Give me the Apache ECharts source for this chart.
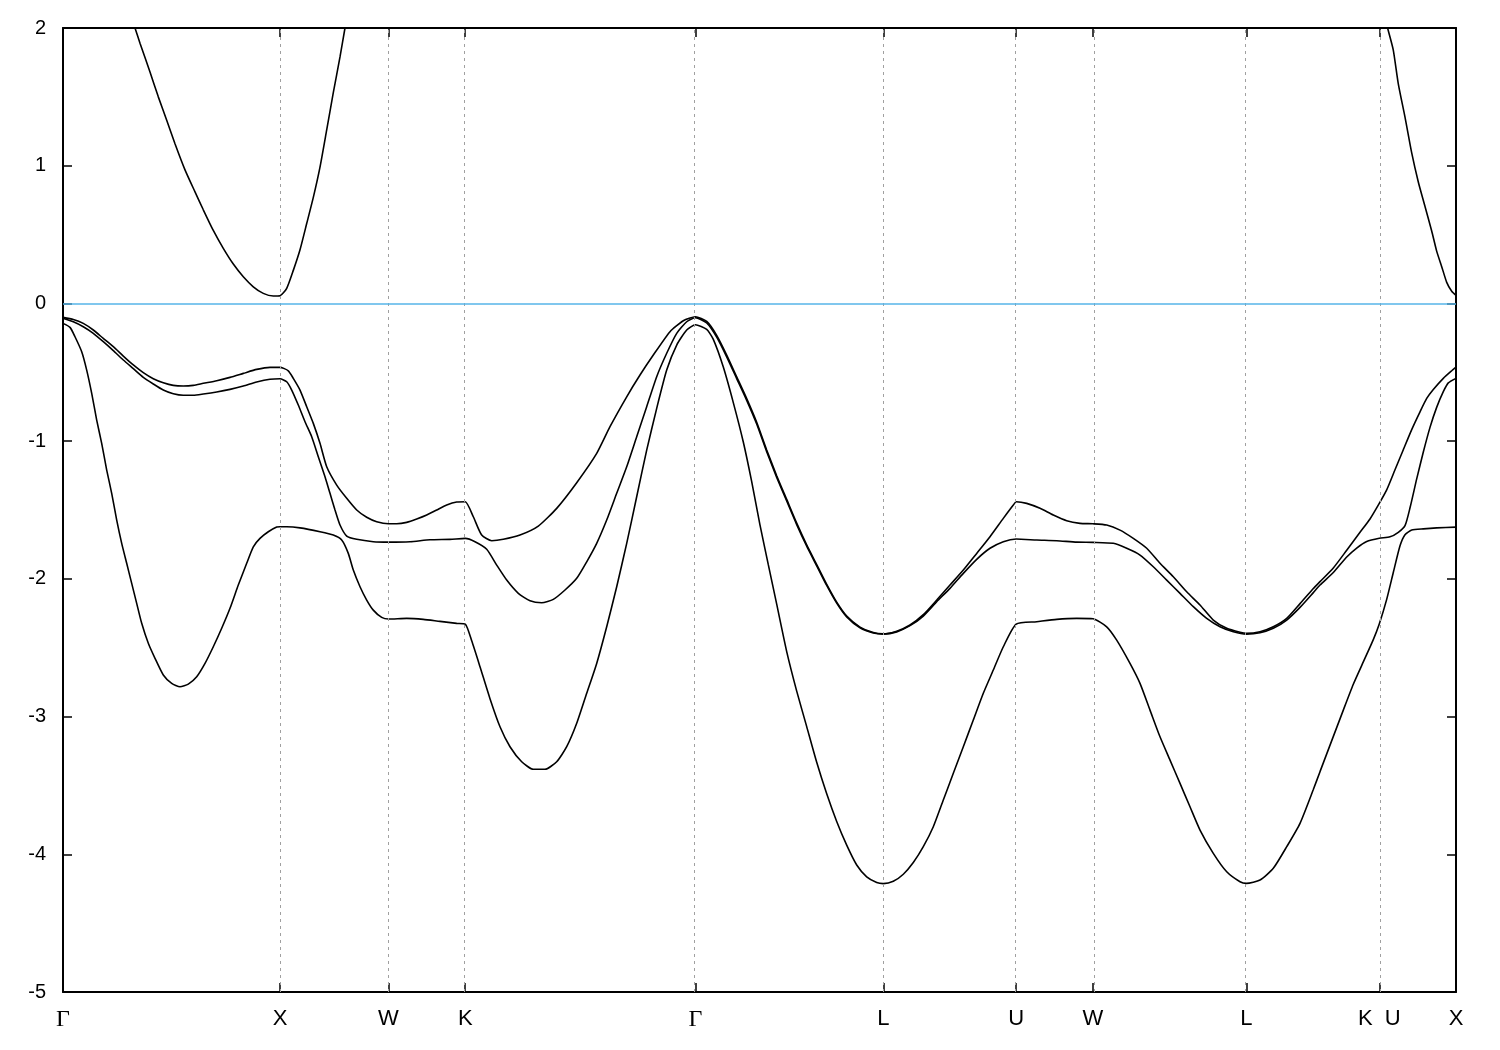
<!DOCTYPE html>
<html>
<head>
<meta charset="utf-8">
<script src="https://cdn.jsdelivr.net/npm/echarts@6/dist/echarts.min.js"></script>
<style>
html,body{margin:0;padding:0;background:#ffffff;}
#chart{width:1500px;height:1050px;}
</style>
</head>
<body>
<div id="chart"></div>
<script>
// High-symmetry points along the k-path (FCC: Γ-X-W-K-Γ-L-U-W-L-K|U-X)
const kTicks  = [0, 1, 1.5, 1.8536, 2.9142, 3.7802, 4.3926, 4.7462, 5.4533, 6.0657, 6.4193];
const kLabels = ['Γ', 'X', 'W', 'K', 'Γ', 'L', 'U', 'W', 'L', 'K  U', 'X'];

// Energy axis (eV)
const eMin = -5, eMax = 2, eStep = 1;
const fermiLevel = 0;

// Lowest valence band [k, E]
const band1 = [
  [0,-0.145],[0.0323,-0.174],[0.0553,-0.242],[0.0862,-0.351],[0.1092,-0.484],[0.1323,-0.653],
  [0.1553,-0.847],[0.1783,-1.016],[0.2014,-1.21],[0.2244,-1.379],[0.2475,-1.573],[0.2705,-1.742],
  [0.2935,-1.887],[0.3166,-2.033],[0.3396,-2.178],[0.3627,-2.323],[0.3931,-2.468],[0.4240,-2.577],
  [0.4622,-2.698],[0.5009,-2.759],[0.5392,-2.783],[0.5774,-2.764],[0.6161,-2.711],[0.6544,-2.614],
  [0.6926,-2.493],[0.7313,-2.359],[0.7696,-2.214],[0.8078,-2.045],[0.8465,-1.887],[0.8770,-1.767],
  [0.9078,-1.706],[0.9461,-1.658],[0.9848,-1.624],[1.0,-1.622],[1.0309,-1.622],[1.0922,-1.630],
  [1.1843,-1.658],[1.2456,-1.682],[1.2843,-1.718],[1.3147,-1.815],[1.3378,-1.936],[1.3687,-2.057],
  [1.3995,-2.154],[1.4299,-2.227],[1.4687,-2.280],[1.5,-2.292],[1.5839,-2.287],[1.6604,-2.294],
  [1.7373,-2.309],[1.8143,-2.323],[1.8536,-2.328],[1.8834,-2.45],[1.9217,-2.638],[1.9677,-2.87],
  [2.0138,-3.074],[2.0599,-3.219],[2.1138,-3.328],[2.1673,-3.383],[2.2212,-3.383],[2.2751,-3.328],
  [2.3212,-3.219],[2.3673,-3.049],[2.4134,-2.831],[2.4594,-2.614],[2.5055,-2.348],[2.5516,-2.057],
  [2.5977,-1.742],[2.6437,-1.404],[2.6898,-1.065],[2.7359,-0.762],[2.7820,-0.484],[2.8281,-0.302],
  [2.8742,-0.193],[2.9142,-0.155],[2.9664,-0.189],[2.9968,-0.261],[3.0429,-0.462],[3.0889,-0.72],
  [3.1350,-1.006],[3.1737,-1.294],[3.2120,-1.61],[3.2502,-1.897],[3.2889,-2.184],[3.3350,-2.528],
  [3.3811,-2.815],[3.4272,-3.073],[3.4733,-3.332],[3.5194,-3.561],[3.5654,-3.762],[3.6115,-3.934],
  [3.6576,-4.078],[3.7037,-4.164],[3.7498,-4.205],[3.7802,-4.213],[3.8263,-4.196],[3.8724,-4.145],
  [3.9184,-4.06],[3.9645,-3.945],[4.0106,-3.80],[4.0567,-3.606],[4.1028,-3.412],[4.1489,-3.219],
  [4.1949,-3.025],[4.2410,-2.831],[4.2871,-2.662],[4.3332,-2.493],[4.3926,-2.328],[4.4871,-2.311],
  [4.5793,-2.294],[4.6714,-2.287],[4.7462,-2.290],[4.8096,-2.348],[4.8557,-2.445],[4.9170,-2.614],
  [4.9631,-2.759],[5.0092,-2.953],[5.0553,-3.147],[5.1014,-3.316],[5.1475,-3.485],[5.1935,-3.655],
  [5.2396,-3.824],[5.3009,-3.993],[5.3627,-4.127],[5.4240,-4.199],[5.4533,-4.211],[5.5161,-4.187],
  [5.5774,-4.102],[5.6392,-3.945],[5.7005,-3.775],[5.7618,-3.53],[5.7926,-3.40],[5.9000,-2.953],
  [5.9461,-2.765],[5.9922,-2.603],[6.0382,-2.441],[6.0657,-2.327],[6.0999,-2.149],[6.1303,-1.954],
  [6.1613,-1.76],[6.1843,-1.679],[6.2152,-1.646],[6.2687,-1.637],[6.3302,-1.630],[6.4193,-1.624]
];

// Second valence band [k, E]
const band2 = [
  [0,-0.108],[0.0475,-0.133],[0.0935,-0.169],[0.1396,-0.217],[0.1857,-0.278],[0.2318,-0.343],
  [0.2779,-0.411],[0.3240,-0.474],[0.3700,-0.537],[0.4161,-0.585],[0.4622,-0.629],[0.5083,-0.656],
  [0.5544,-0.667],[0.6005,-0.667],[0.6465,-0.658],[0.7083,-0.643],[0.7696,-0.624],[0.8309,-0.600],
  [0.8926,-0.571],[0.9539,-0.551],[1.0,-0.547],[1.0309,-0.569],[1.0539,-0.629],[1.0843,-0.738],
  [1.1152,-0.859],[1.1461,-0.968],[1.1765,-1.113],[1.2074,-1.258],[1.2304,-1.379],[1.2535,-1.50],
  [1.2765,-1.609],[1.3074,-1.689],[1.3535,-1.713],[1.4299,-1.730],[1.5,-1.733],[1.5991,-1.730],
  [1.6912,-1.716],[1.7834,-1.713],[1.8536,-1.706],[1.8986,-1.730],[1.9525,-1.785],[1.9986,-1.90],
  [2.0447,-2.009],[2.0982,-2.105],[2.1521,-2.159],[2.2060,-2.173],[2.2594,-2.149],[2.3134,-2.081],
  [2.3673,-1.996],[2.4134,-1.876],[2.4594,-1.742],[2.5055,-1.573],[2.5516,-1.379],[2.5977,-1.186],
  [2.6437,-0.968],[2.6898,-0.75],[2.7359,-0.532],[2.7820,-0.362],[2.8281,-0.217],[2.8742,-0.133],
  [2.9142,-0.104],[2.9664,-0.142],[3.0124,-0.245],[3.0585,-0.388],[3.1046,-0.546],[3.1507,-0.704],
  [3.1967,-0.876],[3.2428,-1.077],[3.2889,-1.263],[3.3350,-1.435],[3.3811,-1.606],[3.4272,-1.763],
  [3.4733,-1.905],[3.5194,-2.048],[3.5654,-2.176],[3.6115,-2.276],[3.6728,-2.355],[3.7341,-2.393],
  [3.7802,-2.401],[3.8419,-2.385],[3.9032,-2.34],[3.9645,-2.27],[4.0263,-2.166],[4.0875,-2.069],
  [4.1489,-1.96],[4.2106,-1.858],[4.2719,-1.778],[4.3332,-1.730],[4.3926,-1.711],[4.4871,-1.718],
  [4.5793,-1.723],[4.6714,-1.733],[4.7462,-1.735],[4.8402,-1.742],[4.9018,-1.778],[4.9631,-1.827],
  [5.0244,-1.912],[5.0861,-2.009],[5.1475,-2.105],[5.2088,-2.202],[5.2705,-2.287],[5.3318,-2.348],
  [5.3931,-2.384],[5.4533,-2.401],[5.5161,-2.391],[5.5774,-2.359],[5.6392,-2.299],[5.7005,-2.207],
  [5.7618,-2.10],[5.7926,-2.045],[5.8539,-1.954],[5.9157,-1.841],[5.9617,-1.776],[6.0078,-1.728],
  [6.0657,-1.705],[6.1152,-1.695],[6.1534,-1.662],[6.1843,-1.614],[6.2074,-1.484],[6.2382,-1.274],
  [6.2687,-1.079],[6.2995,-0.90],[6.3302,-0.755],[6.3608,-0.641],[6.3838,-0.577],[6.4193,-0.544]
];

// Top valence band [k, E]
const band3 = [
  [0,-0.101],[0.0475,-0.116],[0.0935,-0.145],[0.1396,-0.193],[0.1857,-0.254],[0.2318,-0.314],
  [0.2779,-0.382],[0.3240,-0.447],[0.3700,-0.503],[0.4161,-0.547],[0.4622,-0.576],[0.5083,-0.595],
  [0.5544,-0.600],[0.6005,-0.595],[0.6465,-0.580],[0.7083,-0.561],[0.7696,-0.537],[0.8309,-0.508],
  [0.8926,-0.479],[0.9539,-0.464],[1.0,-0.464],[1.0382,-0.489],[1.0613,-0.544],[1.0922,-0.629],
  [1.1230,-0.75],[1.1535,-0.871],[1.1843,-1.016],[1.2152,-1.186],[1.2613,-1.319],[1.3074,-1.415],
  [1.3535,-1.50],[1.3995,-1.553],[1.4456,-1.585],[1.5,-1.600],[1.5378,-1.600],[1.5839,-1.590],
  [1.6300,-1.566],[1.6760,-1.537],[1.7221,-1.50],[1.7682,-1.464],[1.8143,-1.442],[1.8536,-1.44],
  [1.8908,-1.549],[1.9294,-1.682],[1.9756,-1.723],[2.0290,-1.713],[2.1060,-1.682],[2.1903,-1.617],
  [2.2751,-1.488],[2.3673,-1.302],[2.4594,-1.089],[2.5207,-0.895],[2.5977,-0.678],[2.6590,-0.52],
  [2.7203,-0.375],[2.7972,-0.205],[2.8585,-0.126],[2.9142,-0.097],[2.9664,-0.131],[3.0124,-0.232],
  [3.0585,-0.375],[3.1046,-0.533],[3.1507,-0.691],[3.1967,-0.863],[3.2428,-1.064],[3.2889,-1.251],
  [3.3350,-1.423],[3.3811,-1.595],[3.4272,-1.753],[3.4733,-1.896],[3.5194,-2.04],[3.5654,-2.169],
  [3.6115,-2.27],[3.6728,-2.35],[3.7341,-2.39],[3.7802,-2.399],[3.8419,-2.38],[3.9032,-2.335],
  [3.9645,-2.26],[4.0263,-2.154],[4.0875,-2.045],[4.1489,-1.936],[4.2106,-1.815],[4.2719,-1.694],
  [4.3332,-1.561],[4.3793,-1.464],[4.3926,-1.44],[4.4410,-1.452],[4.5023,-1.488],[4.5636,-1.537],
  [4.6253,-1.578],[4.6866,-1.597],[4.7462,-1.600],[4.8096,-1.609],[4.8710,-1.646],[4.9323,-1.706],
  [4.9940,-1.778],[5.0553,-1.887],[5.1166,-1.985],[5.1783,-2.094],[5.2396,-2.19],[5.3009,-2.299],
  [5.3627,-2.359],[5.4240,-2.388],[5.4533,-2.396],[5.5161,-2.384],[5.5774,-2.348],[5.6392,-2.287],
  [5.7005,-2.18],[5.7618,-2.07],[5.7926,-2.02],[5.8539,-1.921],[5.9157,-1.792],[5.9770,-1.662],
  [6.0230,-1.565],[6.0657,-1.452],[6.0999,-1.354],[6.1382,-1.208],[6.1765,-1.062],[6.2152,-0.916],
  [6.2535,-0.787],[6.2843,-0.69],[6.3147,-0.625],[6.3608,-0.544],[6.3995,-0.489],[6.4193,-0.463]
];

// Conduction band near X, left and right ends of the path [k, E]
const cbLeft = [
  [0.2995,2.15],[0.3318,2.0],[0.3548,1.89],[0.4009,1.68],[0.4392,1.50],[0.4779,1.33],[0.5161,1.16],
  [0.5622,0.97],[0.6083,0.81],[0.6465,0.68],[0.6926,0.53],[0.7387,0.40],[0.7848,0.286],[0.8309,0.194],
  [0.8770,0.121],[0.9230,0.073],[0.9691,0.054],[1.0,0.056],[1.0309,0.11],[1.0613,0.24],[1.0922,0.39],
  [1.1230,0.58],[1.1535,0.77],[1.1843,0.99],[1.2152,1.26],[1.2456,1.53],[1.2765,1.79],[1.2995,2.0],
  [1.3226,2.21]
];
const cbRight = [
  [6.0829,2.13],[6.1074,1.98],[6.1303,1.84],[6.1534,1.595],[6.1843,1.353],[6.2152,1.093],[6.2456,0.882],
  [6.2765,0.704],[6.3073,0.526],[6.3302,0.38],[6.3535,0.267],[6.3765,0.153],[6.3995,0.088],[6.4193,0.058]
];

const bands = [band1, band2, band3, cbLeft, cbRight];

const chart = echarts.init(document.getElementById('chart'), null, {renderer: 'canvas'});

const kMax = kTicks[kTicks.length - 1];
const frame = {show: true, onZero: false, lineStyle: {color: '#000', width: 2}};
const tickStyle = {color: '#000', width: 1.5};

function labelFor(v) {
  let best = 0, d = Infinity;
  kTicks.forEach((t, i) => { const dd = Math.abs(t - v); if (dd < d) { d = dd; best = i; } });
  const s = kLabels[best];
  return s === 'Γ' ? '{g|Γ}' : s;
}

const series = bands.map(b => ({
  type: 'line',
  data: b,
  xAxisIndex: 0, yAxisIndex: 0,
  showSymbol: false, symbol: 'none',
  smooth: 0.2,
  clip: true,
  z: 3,
  silent: true,
  lineStyle: {color: '#000', width: 1.6}
}));

// vertical dashed grid at high-symmetry points
series.unshift({
  type: 'line', data: [], xAxisIndex: 0, yAxisIndex: 0, z: 1, silent: true,
  markLine: {
    silent: true, symbol: ['none', 'none'], animation: false,
    label: {show: false},
    lineStyle: {color: '#a0a0a0', width: 1, type: [3, 4]},
    data: kTicks.slice(1, -1).map(v => ({xAxis: v}))
  }
});
// Fermi level
series.push({
  type: 'line', data: [], xAxisIndex: 0, yAxisIndex: 0, z: 4, silent: true,
  markLine: {
    silent: true, symbol: ['none', 'none'], animation: false,
    label: {show: false},
    lineStyle: {color: '#56b4e9', width: 1.6, type: 'solid'},
    data: [{yAxis: fermiLevel}]
  }
});

const option = {
  animation: false,
  backgroundColor: '#ffffff',
  grid: {left: 63, right: 44, top: 28, bottom: 58, containLabel: false, outerBoundsMode: 'none'},
  xAxis: [{
    type: 'value', min: 0, max: kMax, position: 'bottom',
    axisLine: frame,
    axisTick: {show: true, inside: true, length: 9, customValues: kTicks, lineStyle: tickStyle},
    axisLabel: {
      show: true, customValues: kTicks, margin: 16, showMinLabel: true, showMaxLabel: true,
      formatter: labelFor, color: '#000', fontFamily: 'Liberation Sans', fontSize: 22,
      rich: {g: {fontFamily: 'Liberation Serif', fontSize: 24, color: '#000'}}
    },
    splitLine: {show: false}
  }, {
    type: 'value', min: 0, max: kMax, position: 'top',
    axisLine: frame,
    axisTick: {show: true, inside: true, length: 9, customValues: kTicks, lineStyle: tickStyle},
    axisLabel: {show: false},
    splitLine: {show: false}
  }],
  yAxis: [{
    type: 'value', min: eMin, max: eMax, interval: eStep, position: 'left',
    axisLine: frame,
    axisTick: {show: true, inside: true, length: 9, lineStyle: tickStyle},
    axisLabel: {show: true, margin: 17, color: '#000', fontFamily: 'Liberation Sans', fontSize: 20},
    splitLine: {show: false}
  }, {
    type: 'value', min: eMin, max: eMax, interval: eStep, position: 'right',
    axisLine: frame,
    axisTick: {show: true, inside: true, length: 9, lineStyle: tickStyle},
    axisLabel: {show: false},
    splitLine: {show: false}
  }],
  series: series
};
chart.setOption(option);
</script>
</body>
</html>
